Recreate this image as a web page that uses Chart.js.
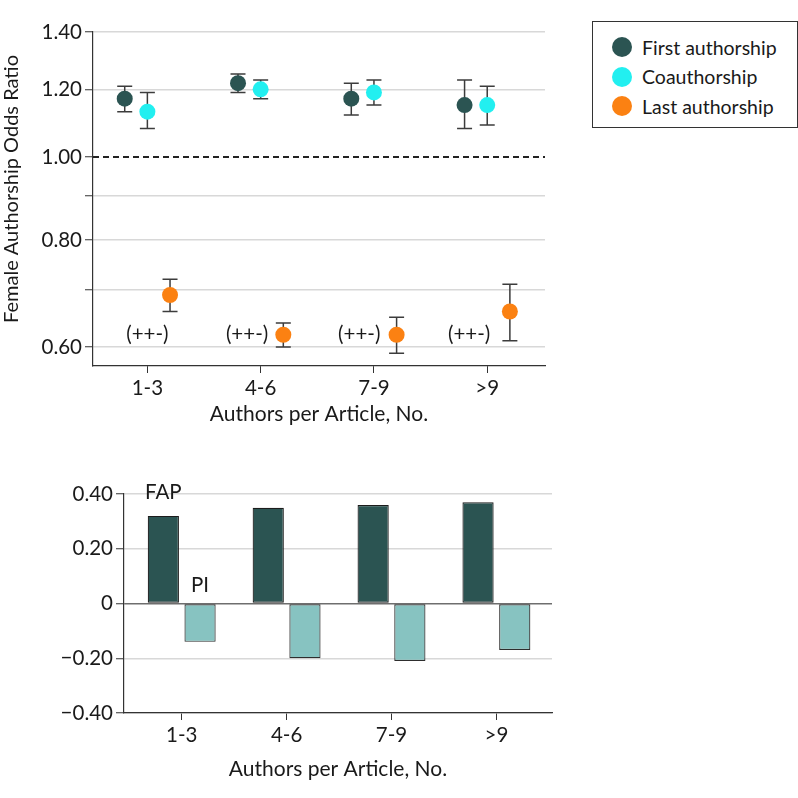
<!DOCTYPE html>
<html>
<head>
<meta charset="utf-8">
<script src="https://cdn.jsdelivr.net/npm/chart.js@4.4.0/dist/chart.umd.min.js"></script>
<style>
    html, body { margin: 0; padding: 0; background: #fff; }
    body { width: 798px; height: 798px; position: relative; overflow: hidden; font-family: Lato, sans-serif; color: #1a1a1a; }
    #oddsWrap { position: absolute; left: 0; top: 0; width: 560px; height: 440px; }
    #diffWrap { position: absolute; left: 0; top: 450px; width: 580px; height: 348px; }
    #legend { position: absolute; left: 592px; top: 21px; width: 206px; height: 107px; border: 1px solid #333; box-sizing: border-box; }
    #legend .item { position: absolute; left: 19px; height: 24px; display: flex; align-items: center; font-size: 19.5px; white-space: nowrap; }
    #legend .dot { width: 20px; height: 20px; border-radius: 50%; margin-right: 10px; }
</style>
</head>
<body>
<div id="oddsWrap"><canvas id="oddsChart" width="560" height="440"></canvas></div>
<div id="diffWrap"><canvas id="diffChart" width="580" height="348"></canvas></div>
<div id="legend"></div>

<script>
    /** data **/
    const categories = ["1-3", "4-6", "7-9", ">9"];

    const firstOR   = [1.17, 1.22, 1.17, 1.15];
    const firstLow  = [1.13, 1.19, 1.12, 1.08];
    const firstHigh = [1.21, 1.25, 1.22, 1.23];

    const coOR   = [1.13, 1.20, 1.19, 1.15];
    const coLow  = [1.08, 1.17, 1.15, 1.09];
    const coHigh = [1.19, 1.23, 1.23, 1.21];

    const lastOR   = [0.69, 0.62, 0.62, 0.66];
    const lastLow  = [0.66, 0.60, 0.59, 0.61];
    const lastHigh = [0.72, 0.64, 0.65, 0.71];

    const trendLabels = ["(++-)", "(++-)", "(++-)", "(++-)"];
    const oddsTicks   = [0.6, 0.7, 0.8, 0.9, 1.0, 1.2, 1.4];
    const oddsLabeled = [0.6, 0.8, 1.0, 1.2, 1.4];

    const fapValues = [0.32, 0.35, 0.36, 0.37];
    const piValues  = [-0.14, -0.20, -0.21, -0.17];

    const FONT = "Lato, sans-serif";
    const TEXT = "#1a1a1a";
    const GRID = "#d8d8d8";
    const AXIS = "#333333";
    const TICK_SIZE = 20.5;
    const TITLE_SIZE = 21;

    const colors = { first: "#2b5452", co: "#22eff0", last: "#fb8112", fap: "#2b5452", pi: "#87c3c1" };

    function buildPoints(values, low, high, shift)
    {
        return values.map((v, i) => ({ x: i + 1 + shift, y: v, low: low[i], high: high[i] }));
    }

    /** error bars + 1.0 reference line + annotations **/
    const errorBarPlugin = {
        id: 'errorBars',
        beforeDatasetsDraw(chart) {
            const {ctx, chartArea, scales: {x, y}} = chart;
            ctx.save();

            const ref = y.getPixelForValue(1.0);
            ctx.strokeStyle = "#222";
            ctx.lineWidth = 2;
            ctx.setLineDash([6, 4]);
            ctx.beginPath();
            ctx.moveTo(chartArea.left, ref);
            ctx.lineTo(chartArea.right, ref);
            ctx.stroke();
            ctx.setLineDash([]);

            ctx.strokeStyle = "#3c3c3c";
            ctx.lineWidth = 1.5;
            chart.data.datasets.forEach(ds => {
                ds.data.forEach(p => {
                    const px = x.getPixelForValue(p.x);
                    const top = y.getPixelForValue(p.high);
                    const bottom = y.getPixelForValue(p.low);
                    ctx.beginPath();
                    ctx.moveTo(px, top); ctx.lineTo(px, bottom);
                    ctx.moveTo(px - 7.5, top); ctx.lineTo(px + 7.5, top);
                    ctx.moveTo(px - 7.5, bottom); ctx.lineTo(px + 7.5, bottom);
                    ctx.stroke();
                });
            });
            ctx.restore();
        },
        afterDatasetsDraw(chart) {
            const {ctx, chartArea, scales: {x, y}} = chart;
            const shift = [0, -0.12, -0.13, -0.16];
            ctx.save();
            ctx.font = `20.5px ${FONT}`;
            ctx.fillStyle = TEXT;
            ctx.textAlign = "center";
            ctx.textBaseline = "middle";
            trendLabels.forEach((t, i) => {
                ctx.fillText(t, x.getPixelForValue(i + 1 + shift[i]), y.getPixelForValue(0.62));
            });

            /** y axis title, a bit above the axis middle as in the source **/
            ctx.font = `20px ${FONT}`;
            ctx.translate(12, (chartArea.top + chartArea.bottom) / 2 - 10);
            ctx.rotate(-Math.PI / 2);
            ctx.fillText("Female Authorship Odds Ratio", 0, 0);
            ctx.restore();
        }
    };

    /** FAP / PI labels **/
    const barLabelPlugin = {
        id: 'barLabels',
        afterDatasetsDraw(chart) {
            const {ctx, chartArea, scales: {y}} = chart;
            const fapBar = chart.getDatasetMeta(0).data[0];
            const piBar = chart.getDatasetMeta(1).data[0];
            ctx.save();
            ctx.font = `20.5px ${FONT}`;
            ctx.fillStyle = TEXT;
            ctx.textAlign = "center";
            ctx.textBaseline = "middle";
            ctx.fillText("FAP", fapBar.x, chartArea.top - 2);
            ctx.fillText("PI", piBar.x, y.getPixelForValue(0) - 18);
            ctx.restore();
        }
    };

    function categoryAxis(min, max, height, titlePad)
    {
        return {
            type: 'linear',
            min: min,
            max: max,
            offset: false,
            afterBuildTicks: scale => { scale.ticks = categories.map((c, i) => ({ value: i + 1 })); },
            afterFit: scale => { scale.height = height; },
            ticks: {
                callback: v => categories[v - 1],
                font: { family: FONT, size: TICK_SIZE },
                color: TEXT,
                maxRotation: 0,
                padding: 3,
            },
            grid: { drawOnChartArea: false, offset: false, tickLength: 7, tickColor: AXIS, tickWidth: 1 },
            border: { color: AXIS, width: 1.2 },
            title: {
                display: true, text: "Authors per Article, No.",
                font: { family: FONT, size: TITLE_SIZE }, color: TEXT,
                padding: { top: 0, bottom: titlePad }
            }
        };
    }

    function initOddsChart()
    {
        const ctx = document.getElementById("oddsChart");
        return new Chart(ctx, {
            type: 'scatter',
            data: {
                datasets: [
                    { label: "First authorship", data: buildPoints(firstOR, firstLow, firstHigh, -0.2), backgroundColor: colors.first },
                    { label: "Coauthorship",     data: buildPoints(coOR, coLow, coHigh, 0),             backgroundColor: colors.co },
                    { label: "Last authorship",  data: buildPoints(lastOR, lastLow, lastHigh, 0.2),     backgroundColor: colors.last },
                ]
            },
            options: {
                responsive: false,
                animation: false,
                layout: { padding: { top: 32, right: 15, left: 0, bottom: 0 } },
                elements: { point: { radius: 8, hoverRadius: 8, borderWidth: 0 } },
                plugins: { legend: { display: false }, tooltip: { enabled: false } },
                scales: {
                    x: categoryAxis(0.52, 4.51, 74, 13),
                    y: {
                        type: 'logarithmic',
                        min: 0.572,
                        max: 1.4,
                        afterBuildTicks: scale => { scale.ticks = oddsTicks.map(v => ({ value: v })); },
                        afterFit: scale => { scale.width = 93; },
                        ticks: {
                            callback: v => oddsLabeled.some(l => Math.abs(l - v) < 1e-6) ? v.toFixed(2) : "",
                            font: { family: FONT, size: TICK_SIZE },
                            color: TEXT,
                            padding: 3,
                        },
                        grid: {
                            color: c => Math.abs(c.tick.value - 1) < 1e-6 ? "rgba(0,0,0,0)" : GRID,
                            lineWidth: 1.5,
                            tickLength: 8,
                            tickColor: AXIS,
                            tickWidth: 1,
                        },
                        border: { color: AXIS, width: 1.2 },
                    }
                }
            },
            plugins: [errorBarPlugin]
        });
    }

    function initDiffChart()
    {
        const ctx = document.getElementById("diffChart");
        return new Chart(ctx, {
            type: 'bar',
            data: {
                datasets: [
                    { label: "FAP", data: fapValues.map((v, i) => ({ x: i + 1, y: v })), backgroundColor: colors.fap, borderColor: "#1c1c1c", borderWidth: 1.2, borderSkipped: false },
                    { label: "PI",  data: piValues.map((v, i) => ({ x: i + 1, y: v })),  backgroundColor: colors.pi,  borderColor: "#2e2e2e", borderWidth: 1.2, borderSkipped: false },
                ]
            },
            options: {
                responsive: false,
                animation: false,
                categoryPercentage: 0.7,
                barPercentage: 0.85,
                layout: { padding: { top: 44, right: 28, left: 0, bottom: 0 } },
                plugins: { legend: { display: false }, tooltip: { enabled: false } },
                scales: {
                    x: categoryAxis(0.45, 4.53, 85, 16),
                    y: {
                        min: -0.4,
                        max: 0.4,
                        afterFit: scale => { scale.width = 124; },
                        ticks: {
                            stepSize: 0.2,
                            callback: v => Math.abs(v) < 1e-9 ? "0" : (v < 0 ? "\u2212" : "") + Math.abs(v).toFixed(2),
                            font: { family: FONT, size: TICK_SIZE },
                            color: TEXT,
                            padding: 3,
                        },
                        grid: {
                            color: c => Math.abs(c.tick.value) < 1e-9 ? "#6e6e6e" : GRID,
                            lineWidth: 1.5,
                            tickLength: 8,
                            tickColor: AXIS,
                            tickWidth: 1,
                        },
                        border: { color: AXIS, width: 1.2 },
                    }
                }
            },
            plugins: [barLabelPlugin]
        });
    }

    function buildLegend()
    {
        const items = [
            { text: "First authorship", color: colors.first },
            { text: "Coauthorship", color: colors.co },
            { text: "Last authorship", color: colors.last },
        ];
        const legend = document.getElementById("legend");
        items.forEach((it, i) => {
            const row = document.createElement("div");
            row.className = "item";
            row.style.top = (13 + i * 29.5) + "px";
            row.innerHTML = `<span class="dot" style="background:${it.color}"></span><span>${it.text}</span>`;
            legend.appendChild(row);
        });
    }

    Chart.defaults.font.family = FONT;
    initOddsChart();
    initDiffChart();
    buildLegend();
</script>
</body>
</html>
